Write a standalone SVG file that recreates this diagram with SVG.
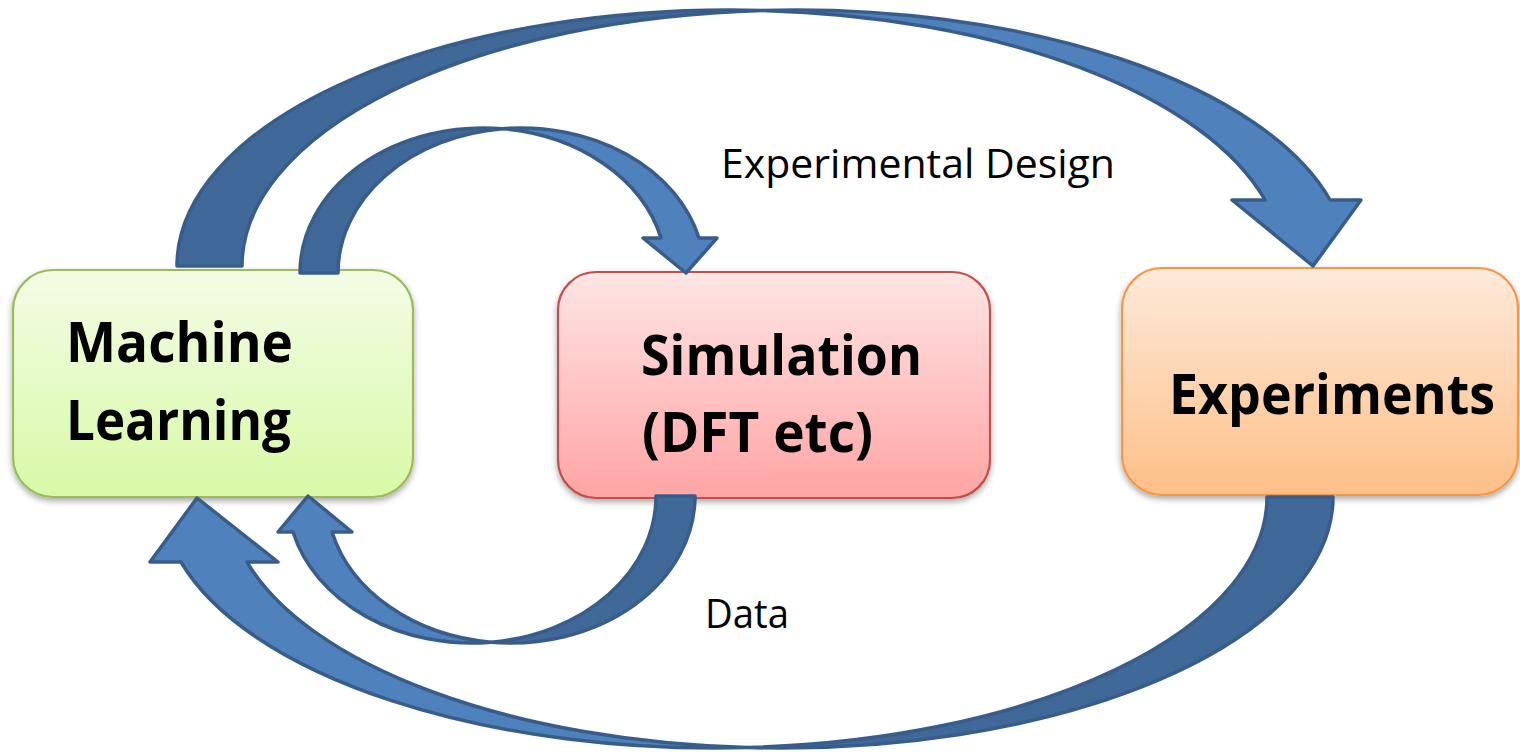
<svg xmlns="http://www.w3.org/2000/svg" width="1520" height="752" viewBox="0 0 1520 752">
  <defs>
    <linearGradient id="gGreen" x1="0" y1="0" x2="0" y2="1">
      <stop offset="0" stop-color="#F3FCE6"/>
      <stop offset="1" stop-color="#D8F9A6"/>
    </linearGradient>
    <linearGradient id="gRed" x1="0" y1="0" x2="0" y2="1">
      <stop offset="0" stop-color="#FFE5E5"/>
      <stop offset="1" stop-color="#FFA4A4"/>
    </linearGradient>
    <linearGradient id="gOrange" x1="0" y1="0" x2="0" y2="1">
      <stop offset="0" stop-color="#FEEADA"/>
      <stop offset="1" stop-color="#FDBF87"/>
    </linearGradient>
    <filter id="shadow" x="-10%" y="-10%" width="120%" height="125%">
      <feDropShadow dx="0" dy="3" stdDeviation="3" flood-color="#000" flood-opacity="0.35"/>
    </filter>
    <style>
      .box { stroke-width: 2.2; filter: url(#shadow); }
      .big { font-family: "Open Sans", "Noto Sans", sans-serif; font-weight: 700; font-size: 56px; fill: #000; }
      .lbl { font-family: "Open Sans", "Noto Sans", sans-serif; font-weight: 400; font-size: 40px; fill: #000; }
      .back { fill: #406898; stroke: #385D8A; stroke-width: 3.5; stroke-linejoin: round; }
      .front { fill: #4F81BD; stroke: #385D8A; stroke-width: 3.5; stroke-linejoin: round; }
    </style>
  </defs>

  <rect width="1520" height="752" fill="#FFFFFF"/>

  <!-- nodes -->
  <g id="machine-learning">
    <rect class="box" x="13" y="270" width="400" height="227" rx="40" ry="40" fill="url(#gGreen)" stroke="#9BBB59"/>
    <text class="big" x="66" y="362" textLength="227" lengthAdjust="spacingAndGlyphs">Machine</text>
    <text class="big" x="66" y="440" textLength="225" lengthAdjust="spacingAndGlyphs">Learning</text>
  </g>

  <g id="simulation">
    <rect class="box" x="558" y="272" width="432" height="226" rx="38" ry="38" fill="url(#gRed)" stroke="#C0504D"/>
    <text class="big" x="641" y="375" textLength="281" lengthAdjust="spacingAndGlyphs">Simulation</text>
    <text class="big" x="642" y="452" textLength="231" lengthAdjust="spacingAndGlyphs">(DFT etc)</text>
  </g>

  <g id="experiments">
    <rect class="box" x="1122" y="268" width="396" height="227" rx="40" ry="40" fill="url(#gOrange)" stroke="#F79646"/>
    <text class="big" x="1169" y="414" textLength="326" lengthAdjust="spacingAndGlyphs">Experiments</text>
  </g>

  <!-- connectors: curved block arrows (back face darker, front face lighter) -->
  <g id="connectors">
    <!-- Machine Learning -> Experiments (outer, top) -->
    <g id="arrow-ml-exp">
      <path class="back" d="M 177 266 A 553.4 256 0 0 1 762.9 10.44 A 553.4 256 0 0 0 242 266 Z"/>
      <path class="front" d="M 762.9 10.44 A 553.4 256 0 0 1 1330.1 200 L 1361 200 L 1313 266 L 1232 200 L 1265.1 200 A 553.4 256 0 0 0 762.9 10.44 Z"/>
    </g>
    <!-- Machine Learning -> Simulation (inner, top) -->
    <g id="arrow-ml-sim">
      <path class="back" d="M 300 273 A 183.2 145 0 0 1 502.2 128.78 A 183.2 145 0 0 0 338 273 Z"/>
      <path class="front" d="M 502.2 128.78 A 183.2 145 0 0 1 699 238 L 717 238 L 686 273 L 643 238 L 661 238 A 183.2 145 0 0 0 502.2 128.78 Z"/>
    </g>
    <!-- Simulation -> Machine Learning (inner, bottom) -->
    <g id="arrow-sim-ml">
      <path class="back" d="M 695 496 A 184.3 147 0 0 1 491.2 642.18 A 184.3 147 0 0 0 656 496 Z"/>
      <path class="front" d="M 491.2 642.18 A 184.3 147 0 0 1 293 532 L 278 532 L 308 496 L 352 532 L 332 532 A 184.3 147 0 0 0 491.2 642.18 Z"/>
    </g>
    <!-- Experiments -> Machine Learning (outer, bottom) -->
    <g id="arrow-exp-ml">
      <path class="back" d="M 1333 497 A 552.4 251 0 0 1 747.6 747.55 A 552.4 251 0 0 0 1267 497 Z"/>
      <path class="front" d="M 747.6 747.55 A 552.4 251 0 0 1 181 562 L 150 562 L 197 498 L 278 562 L 247 562 A 552.4 251 0 0 0 747.6 747.55 Z"/>
    </g>
  </g>

  <!-- labels -->
  <g id="labels">
    <text class="lbl" x="721" y="178" textLength="394" lengthAdjust="spacingAndGlyphs">Experimental Design</text>
    <text class="lbl" x="705" y="628" textLength="84" lengthAdjust="spacingAndGlyphs">Data</text>
  </g>
</svg>
